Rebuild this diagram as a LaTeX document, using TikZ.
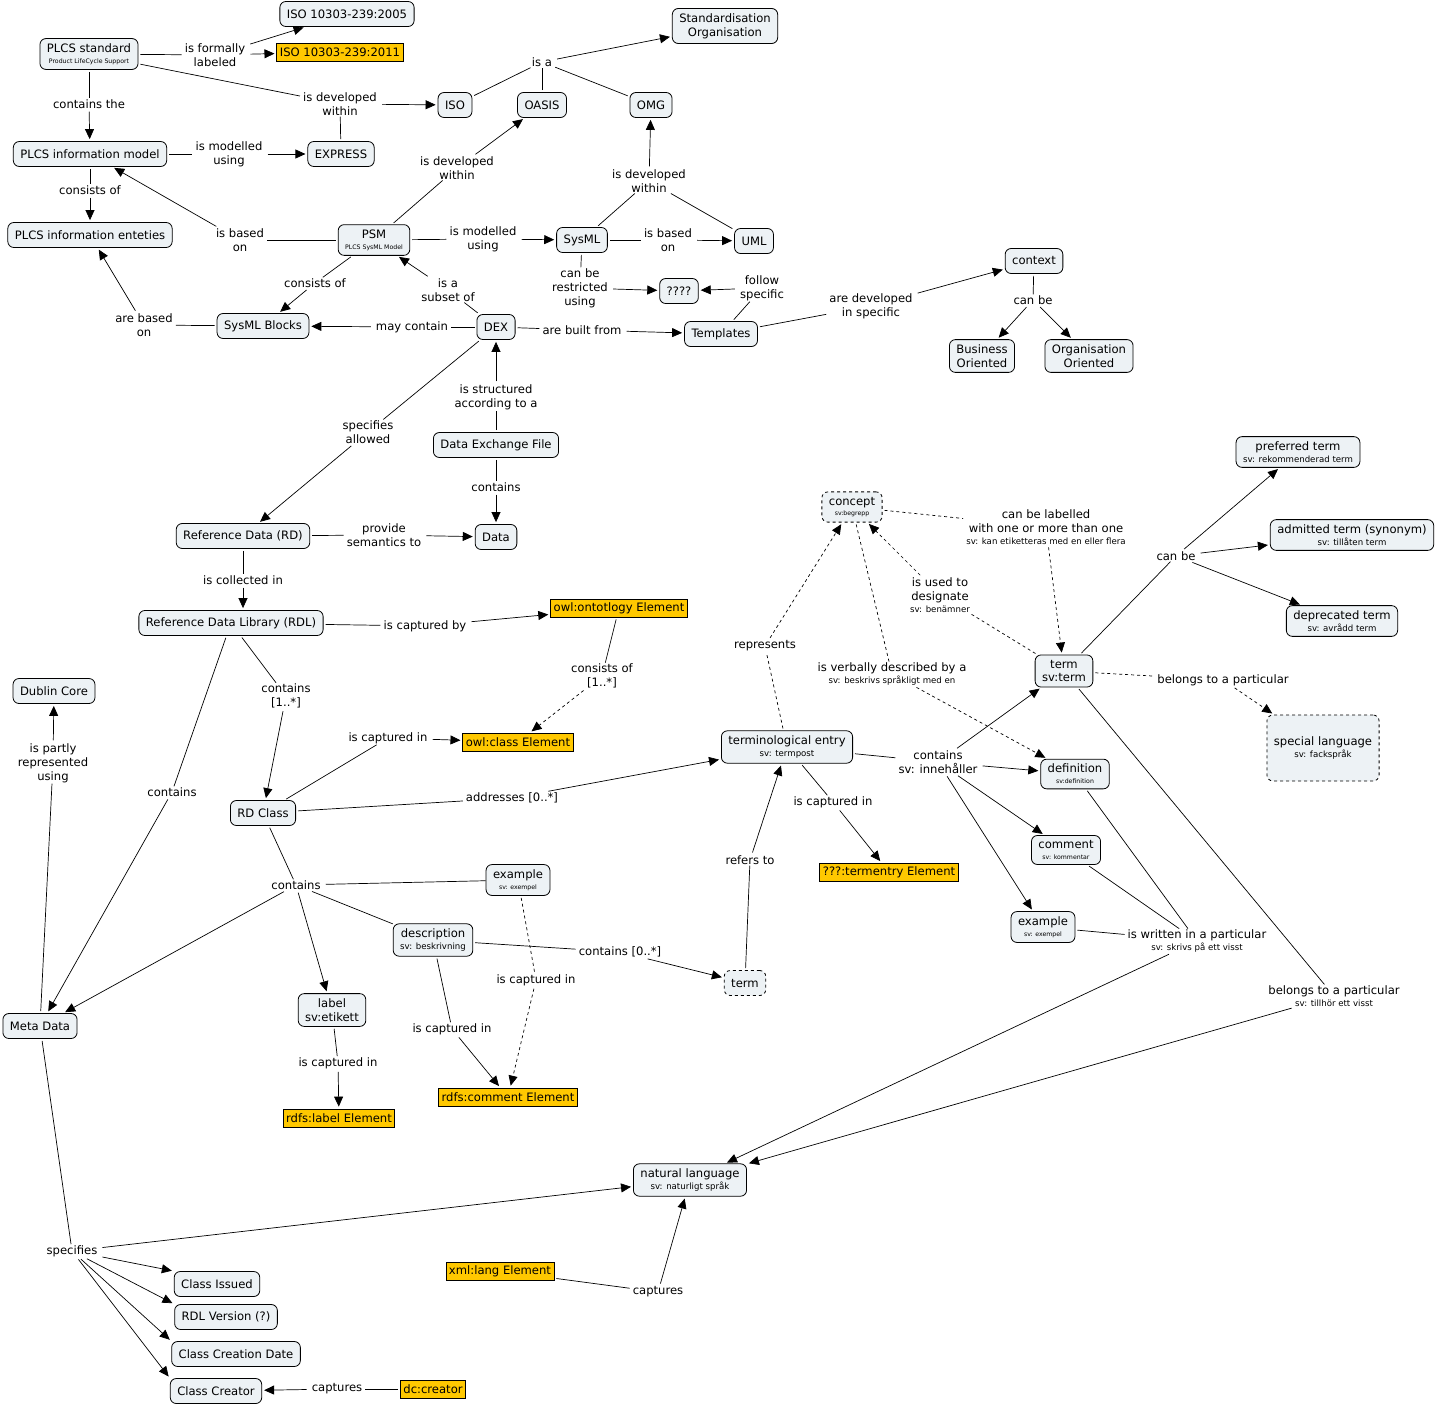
\documentclass[tikz,border=0pt]{standalone}
\usepackage{fontspec}
\setmainfont{DejaVu Sans}
\usepackage{tikz}
\usetikzlibrary{arrows.meta}
\definecolor{cmapfill}{RGB}{237,242,245}
\definecolor{owlorange}{RGB}{255,200,0}
\newcommand{\sv}[1]{{\fontsize{8.6}{10}\selectfont #1}}
\newcommand{\tinysv}[1]{{\fontsize{6.2}{7}\selectfont #1}}

\begin{document}
\begin{tikzpicture}[x=1pt, y=-1pt,
  every node/.style={font=\fontsize{11.6}{13.8}\selectfont, align=center},
  cmap/.style={draw, fill=cmapfill, rounded corners=6pt, line width=0.8pt, inner xsep=7pt, inner ysep=5pt, minimum height=25pt},
  dcmap/.style={cmap, dashed},
  owl/.style={draw, fill=owlorange, line width=0.8pt, inner xsep=3pt, inner ysep=2pt, minimum height=18pt},
  lw/.style={inner xsep=3pt, inner ysep=1pt},
  ln/.style={draw, line width=0.7pt, shorten <=2pt},
  arw/.style={ln, -{Triangle[length=10pt,width=9pt]}, shorten >=2pt},
  dln/.style={ln, dashed},
  darw/.style={arw, dashed}]
  \useasboundingbox (0,0) rectangle (1440,1405);

  % Standards and organisations
  \node[cmap] (plcs) at (89,54) {PLCS standard\\[-3pt]\tinysv{Product LifeCycle Support}};
  \node[cmap] (iso2005) at (347,14) {ISO 10303-239:2005};
  \node[owl] (iso2011) at (340,52) {ISO 10303-239:2011};
  \node[cmap] (stdorg) at (725,26) {Standardisation\\Organisation};
  \node[cmap] (iso) at (455,105) {ISO};
  \node[cmap] (oasis) at (542,105) {OASIS};
  \node[cmap] (omg) at (651,105) {OMG};
  \node[cmap] (plcsim) at (90,154) {PLCS information model};
  \node[cmap] (express) at (341,154) {EXPRESS};
  \node[cmap] (plcsie) at (90,235) {PLCS information enteties};
  \node[cmap] (psm) at (374,240) {PSM\\[-3pt]\tinysv{PLCS SysML Model}};
  \node[cmap] (sysml) at (582,240) {SysML};
  \node[cmap] (uml) at (754,241) {UML};
  \node[cmap] (qmark) at (679,291) {????};
  \node[cmap] (blocks) at (263,326) {SysML Blocks};
  \node[cmap] (dex) at (496,327) {DEX};
  \node[cmap] (templates) at (721,334) {Templates};
  \node[cmap] (context) at (1034,261) {context};
  \node[cmap] (business) at (982,356) {Business\\Oriented};
  \node[cmap] (orgor) at (1089,356) {Organisation\\Oriented};

  % Reference data
  \node[cmap] (dexfile) at (496,445) {Data Exchange File};
  \node[cmap] (data) at (496,537) {Data};
  \node[cmap] (rd) at (243,536) {Reference Data (RD)};
  \node[cmap] (rdl) at (231,623) {Reference Data Library (RDL)};
  \node[owl] (owlont) at (619,608) {owl:ontotlogy Element};
  \node[owl] (owlclass) at (518,742) {owl:class Element};
  \node[cmap] (rdclass) at (263,813) {RD Class};
  \node[cmap] (dublin) at (54,691) {Dublin Core};
  \node[cmap] (metadata) at (40,1026) {Meta Data};
  \node[cmap] (rdexample) at (518,880) {example\\[-3pt]\tinysv{sv: exempel}};
  \node[cmap] (description) at (433,940) {description\\[-2pt]\sv{sv: beskrivning}};
  \node[dcmap] (rdterm) at (745,983) {term};
  \node[cmap] (label) at (332,1010) {label\\sv:etikett};
  \node[owl] (rdfslabel) at (339,1118) {rdfs:label Element};
  \node[owl] (rdfscomment) at (508,1097) {rdfs:comment Element};
  \node[owl] (xmllang) at (500,1271) {xml:lang Element};
  \node[cmap] (issued) at (217,1284) {Class Issued};
  \node[cmap] (version) at (226,1317) {RDL Version (?)};
  \node[cmap] (created) at (236,1354) {Class Creation Date};
  \node[cmap] (creator) at (216,1391) {Class Creator};
  \node[owl] (dccreator) at (433,1389) {dc:creator};

  % Terminology
  \node[cmap] (termentry) at (787,747) {terminological entry\\[-2pt]\sv{sv: termpost}};
  \node[dcmap] (concept) at (852,507) {concept\\[-3pt]\tinysv{sv:begrepp}};
  \node[cmap] (term) at (1064,671) {term\\sv:term};
  \node[cmap] (prefterm) at (1298,452) {preferred term\\[-2pt]\sv{sv: rekommenderad term}};
  \node[cmap] (admitted) at (1352,535) {admitted term (synonym)\\[-2pt]\sv{sv: tillåten term}};
  \node[cmap] (deprecated) at (1342,621) {deprecated term\\[-2pt]\sv{sv: avrådd term}};
  \node[dcmap, minimum width=88pt, minimum height=66pt] (speclang) at (1323,748) {special language\\[-2pt]\sv{sv: fackspråk}};
  \node[cmap] (definition) at (1075,774) {definition\\[-3pt]\tinysv{sv:definition}};
  \node[cmap] (comment) at (1066,850) {comment\\[-3pt]\tinysv{sv: kommentar}};
  \node[cmap] (example) at (1043,927) {example\\[-3pt]\tinysv{sv: exempel}};
  \node[owl] (termelem) at (889,872) {???:termentry Element};
  \node[cmap] (natlang) at (690,1180) {natural language\\[-2pt]\sv{sv: naturligt språk}};

  % Linking phrases
  \node[lw] (formally) at (215,55) {is formally\\labeled};
  \node[lw] (devwithin) at (340,104) {is developed\\within};
  \node[lw] (containsthe) at (89,104) {contains the};
  \node[lw] (modelled) at (229,154) {is modelled\\using};
  \node[lw] (consists) at (90,190) {consists of};
  \node[lw] (basedon) at (240,240) {is based\\on};
  \node[lw] (isa) at (542,62) {is a};
  \node[lw] (psmwithin) at (457,168) {is developed\\within};
  \node[lw] (sysmlwithin) at (649,181) {is developed\\within};
  \node[lw] (psmusing) at (483,239) {is modelled\\using};
  \node[lw] (umlbased) at (668,240) {is based\\on};
  \node[lw] (restricted) at (580,288) {can be\\restricted\\using};
  \node[lw] (follow) at (762,288) {follow\\specific};
  \node[lw] (psmconsists) at (315,283) {consists of};
  \node[lw] (subset) at (448,290) {is a\\subset of};
  \node[lw] (arebased) at (144,325) {are based\\on};
  \node[lw] (maycontain) at (412,327) {may contain};
  \node[lw] (builtfrom) at (582,330) {are built from};
  \node[lw] (developedin) at (871,306) {are developed\\in specific};
  \node[lw] (canbectx) at (1033,300) {can be};
  \node[lw] (structured) at (496,397) {is structured\\according to a};
  \node[lw] (allowed) at (368,432) {specifies\\allowed};
  \node[lw] (filecontains) at (496,487) {contains};
  \node[lw] (semantics) at (384,535) {provide\\semantics to};
  \node[lw] (collected) at (243,580) {is collected in};
  \node[lw] (capturedby) at (425,626) {is captured by};
  \node[lw] (owlconsists) at (602,676) {consists of\\{}[1..*]};
  \node[lw] (rdlcontains) at (286,696) {contains\\{}[1..*]};
  \node[lw] (mdcontains) at (172,792) {contains};
  \node[lw] (classcaptured) at (388,738) {is captured in};
  \node[lw] (addresses) at (512,798) {addresses [0..*]};
  \node[lw] (partly) at (53,763) {is partly\\represented\\using};
  \node[lw] (classcontains) at (296,885) {contains};
  \node[lw] (labelcaptured) at (338,1063) {is captured in};
  \node[lw] (desccaptured) at (452,1029) {is captured in};
  \node[lw] (excaptured) at (536,980) {is captured in};
  \node[lw] (desccontains) at (620,952) {contains [0..*]};
  \node[lw] (refers) at (750,860) {refers to};
  \node[lw] (entrycaptured) at (833,802) {is captured in};
  \node[lw] (represents) at (765,646) {represents};
  \node[lw] (verbally) at (892,674) {is verbally described by a\\[-2pt]\sv{sv: beskrivs språkligt med en}};
  \node[lw] (designate) at (940,595) {is used to\\designate\\[-2pt]\sv{sv: benämner}};
  \node[lw] (labelled) at (1046,527) {can be labelled\\with one or more than one\\[-2pt]\sv{sv: kan etiketteras med en eller flera}};
  \node[lw] (entrycontains) at (938,762) {contains\\sv: innehåller};
  \node[lw] (canbe) at (1176,556) {can be};
  \node[lw] (belongsspec) at (1223,680) {belongs to a particular};
  \node[lw] (written) at (1197,941) {is written in a particular\\[-2pt]\sv{sv: skrivs på ett visst}};
  \node[lw] (belongsnat) at (1334,996) {belongs to a particular\\[-2pt]\sv{sv: tillhör ett visst}};
  \node[lw] (specifies) at (72,1251) {specifies};
  \node[lw] (xmlcaptures) at (658,1292) {captures};
  \node[lw] (dccaptures) at (337,1389) {captures};

  % Connectors, top part
  \draw[ln] (plcs) -- (formally);
  \draw[arw] (formally) -- (iso2005);
  \draw[arw] (formally) -- (iso2011);
  \draw[ln] (plcs) -- (devwithin);
  \draw[ln] (express) -- (devwithin);
  \draw[arw] (devwithin) -- (iso);
  \draw[ln] (plcs) -- (containsthe);
  \draw[arw] (containsthe) -- (plcsim);
  \draw[ln] (plcsim) -- (modelled);
  \draw[arw] (modelled) -- (express);
  \draw[ln] (plcsim) -- (consists);
  \draw[arw] (consists) -- (plcsie);
  \draw[ln] (psm) -- (basedon);
  \draw[arw] (basedon) -- (plcsim);
  \foreach \src in {iso,oasis,omg}
    \draw[ln] (\src) -- (isa);
  \draw[arw] (isa) -- (stdorg);
  \draw[ln] (psm) -- (psmwithin);
  \draw[arw] (psmwithin) -- (oasis);
  \draw[ln] (sysml) -- (sysmlwithin);
  \draw[ln] (uml) -- (sysmlwithin);
  \draw[arw] (sysmlwithin) -- (omg);
  \draw[ln] (psm) -- (psmusing);
  \draw[arw] (psmusing) -- (sysml);
  \draw[ln] (sysml) -- (umlbased);
  \draw[arw] (umlbased) -- (uml);
  \draw[ln] (sysml) -- (restricted);
  \draw[arw] (restricted) -- (qmark);
  \draw[ln] (templates) -- (follow);
  \draw[arw] (follow) -- (qmark);
  \draw[ln] (psm) -- (psmconsists);
  \draw[arw] (psmconsists) -- (blocks);
  \draw[ln] (dex) -- (subset);
  \draw[arw] (subset) -- (psm);
  \draw[ln] (blocks) -- (arebased);
  \draw[arw] (arebased) -- (plcsie);
  \draw[ln] (dex) -- (maycontain);
  \draw[arw] (maycontain) -- (blocks);
  \draw[ln] (dex) -- (builtfrom);
  \draw[arw] (builtfrom) -- (templates);
  \draw[ln] (templates) -- (developedin);
  \draw[arw] (developedin) -- (context);
  \draw[ln] (context) -- (canbectx);
  \draw[arw] (canbectx) -- (business);
  \draw[arw] (canbectx) -- (orgor);

  % Connectors, reference data
  \draw[ln] (dexfile) -- (structured);
  \draw[arw] (structured) -- (dex);
  \draw[ln] (dex) -- (allowed);
  \draw[arw] (allowed) -- (rd);
  \draw[ln] (dexfile) -- (filecontains);
  \draw[arw] (filecontains) -- (data);
  \draw[ln] (rd) -- (semantics);
  \draw[arw] (semantics) -- (data);
  \draw[ln] (rd) -- (collected);
  \draw[arw] (collected) -- (collected |- rdl.north);
  \draw[ln] (rdl) -- (capturedby);
  \draw[arw] (capturedby) -- (owlont);
  \draw[ln] (owlont) -- (owlconsists);
  \draw[darw] (owlconsists) -- (owlclass);
  \draw[ln] (rdl) -- (rdlcontains);
  \draw[arw] (rdlcontains) -- (rdclass);
  \draw[ln] (rdl) -- (mdcontains);
  \draw[arw] (mdcontains) -- (metadata);
  \draw[ln] (rdclass) -- (classcaptured);
  \draw[arw] (classcaptured) -- (owlclass);
  \draw[ln] (rdclass) -- (addresses);
  \draw[arw] (addresses) -- (termentry);
  \draw[ln] (metadata) -- (partly);
  \draw[arw] (partly) -- (dublin);
  \draw[ln] (rdclass) -- (classcontains);
  \draw[arw] (classcontains) -- (metadata);
  \draw[arw] (classcontains) -- (label);
  \draw[ln] (classcontains) -- (rdexample);
  \draw[ln] (classcontains) -- (description);
  \draw[ln] (label) -- (labelcaptured);
  \draw[arw] (labelcaptured) -- (rdfslabel);
  \draw[ln] (description) -- (desccaptured);
  \draw[arw] (desccaptured) -- (rdfscomment);
  \draw[dln] (rdexample) -- (excaptured);
  \draw[darw] (excaptured) -- (rdfscomment);
  \draw[ln] (description) -- (desccontains);
  \draw[arw] (desccontains) -- (rdterm);
  \draw[ln] (rdterm) -- (refers);
  \draw[arw] (refers) -- (termentry);

  % Connectors, terminology
  \draw[ln] (termentry) -- (entrycaptured);
  \draw[arw] (entrycaptured) -- (termelem);
  \draw[dln] (termentry) -- (represents);
  \draw[darw] (represents) -- (concept);
  \draw[dln] (concept) -- (verbally);
  \draw[darw] (verbally) -- (definition);
  \draw[dln] (term) -- (designate);
  \draw[darw] (designate) -- (concept);
  \draw[dln] (concept) -- (labelled);
  \draw[darw] (labelled) -- (term);
  \draw[ln] (termentry) -- (entrycontains);
  \foreach \tgt in {term,definition,comment,example}
    \draw[arw] (entrycontains) -- (\tgt);
  \draw[ln] (term) -- (canbe);
  \foreach \tgt in {prefterm,admitted,deprecated}
    \draw[arw] (canbe) -- (\tgt);
  \draw[dln] (term) -- (belongsspec);
  \draw[darw] (belongsspec) -- (speclang);
  \foreach \src in {example,comment,definition}
    \draw[ln] (\src) -- (written);
  \draw[arw] (written) -- (natlang);
  \draw[ln] (term) -- (belongsnat);
  \draw[arw] (belongsnat) -- (natlang);

  % Meta data
  \draw[ln] (metadata) -- (specifies);
  \draw[arw] (specifies) -- (natlang);
  \foreach \tgt in {issued,version,created,creator}
    \draw[arw] (specifies) -- (\tgt.north west);
  \draw[ln] (xmllang) -- (xmlcaptures);
  \draw[arw] (xmlcaptures) -- (natlang);
  \draw[ln] (dccreator) -- (dccaptures);
  \draw[arw] (dccaptures) -- (creator);
\end{tikzpicture}
\end{document}
